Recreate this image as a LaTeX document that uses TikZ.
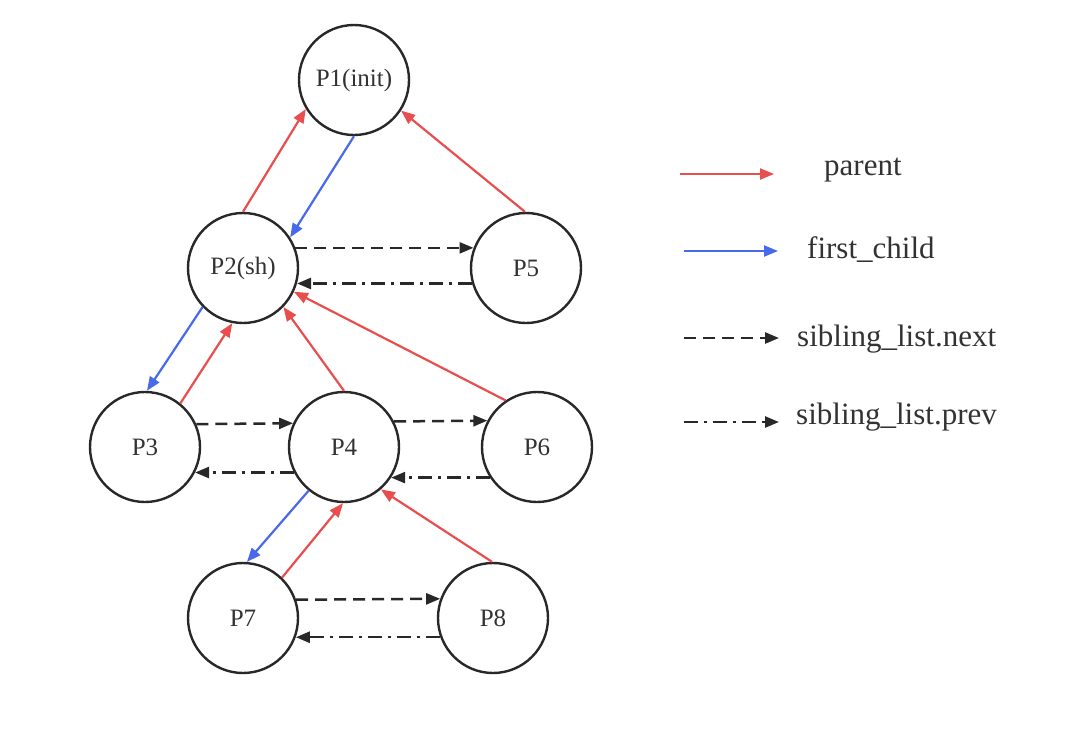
\documentclass[tikz,border=0pt]{standalone}
\usepackage{fontspec}
\setmainfont{Liberation Serif}
\usetikzlibrary{arrows.meta}
\definecolor{redc}{RGB}{232,78,78}
\definecolor{bluec}{RGB}{72,106,232}
\definecolor{darkc}{RGB}{40,40,40}
\definecolor{txtc}{RGB}{50,50,50}
\begin{document}
\begin{tikzpicture}[x=1pt,y=-1pt,
  proc/.style={circle,draw=darkc,line width=2.4pt,minimum size=110pt,inner sep=0pt,
    font=\fontsize{25}{30}\selectfont,text=txtc},
  tip/.style={-{Triangle[length=14pt,width=11pt]}},
  par/.style={tip,draw=redc,line width=2.2pt,color=redc},
  fch/.style={tip,draw=bluec,line width=2.2pt,color=bluec},
  nxt/.style={tip,draw=darkc,line width=2.5pt,color=darkc,dash pattern=on 12pt off 7pt},
  prv/.style={tip,draw=darkc,line width=2.5pt,color=darkc,dash pattern=on 14pt off 6pt on 3pt off 6pt},
  leg/.style={font=\fontsize{31}{36}\selectfont,text=txtc,anchor=west,inner sep=0pt}]
\useasboundingbox (0,0) rectangle (1085,729);
\node[proc] (P1) at (354,80) {P1(init)};
\node[proc] (P2) at (243,268) {P2(sh)};
\node[proc] (P5) at (526,268) {P5};
\node[proc] (P3) at (145,447) {P3};
\node[proc] (P4) at (344,447) {P4};
\node[proc] (P6) at (537,447) {P6};
\node[proc] (P7) at (243,618) {P7};
\node[proc] (P8) at (493,618) {P8};
% parent
\draw[par] (P2.90) -- (P1.211.5);
\draw[par] (P5.91) -- (P1.-33.7);
\draw[par] (P3.51.3) -- (P2.259);
\draw[par] (P4.90) -- (P2.-44.3);
\draw[par] (P6.124.8) -- (P2.-25.7);
\draw[par] (P7.46.4) -- (P4.269);
\draw[par] (P8.91) -- (P4.-49);
% first child
\draw[fch] (P1.270) -- (P2.33.7);
\draw[fch] (P2.224) -- (P3.88);
\draw[fch] (P4.231.3) -- (P7.86);
% next
\draw[nxt] (P2.21) -- (P5.159);
\draw[nxt] (P3.24.2) -- (P4.155.8);
\draw[nxt] (P4.27.7) -- (P6.152.3);
\draw[nxt] (P7.19.8) -- (P8.160.2);
% prev
\draw[prv] (P5.196.6) -- (P2.-16.6);
\draw[prv] (P4.207.7) -- (P3.-27.7);
\draw[prv] (P6.213.6) -- (P4.-33.6);
\draw[prv] (P8.200.9) -- (P7.-20.9);
% legend
\coordinate (l1a) at (680,174); \coordinate (l1b) at (774,174);
\coordinate (l2a) at (684,251); \coordinate (l2b) at (778,251);
\coordinate (l3a) at (684,338); \coordinate (l3b) at (779,338);
\coordinate (l4a) at (684,422); \coordinate (l4b) at (779,422);
\draw[par] (l1a) -- (l1b);
\draw[fch] (l2a) -- (l2b);
\draw[nxt] (l3a) -- (l3b);
\draw[prv] (l4a) -- (l4b);
\node[leg] (t1) at (824,170) {parent};
\node[leg] (t2) at (807,250) {first\_child};
\node[leg] (t3) at (797,339) {sibling\_list.next};
\node[leg] (t4) at (796,417) {sibling\_list.prev};
\end{tikzpicture}
\end{document}
